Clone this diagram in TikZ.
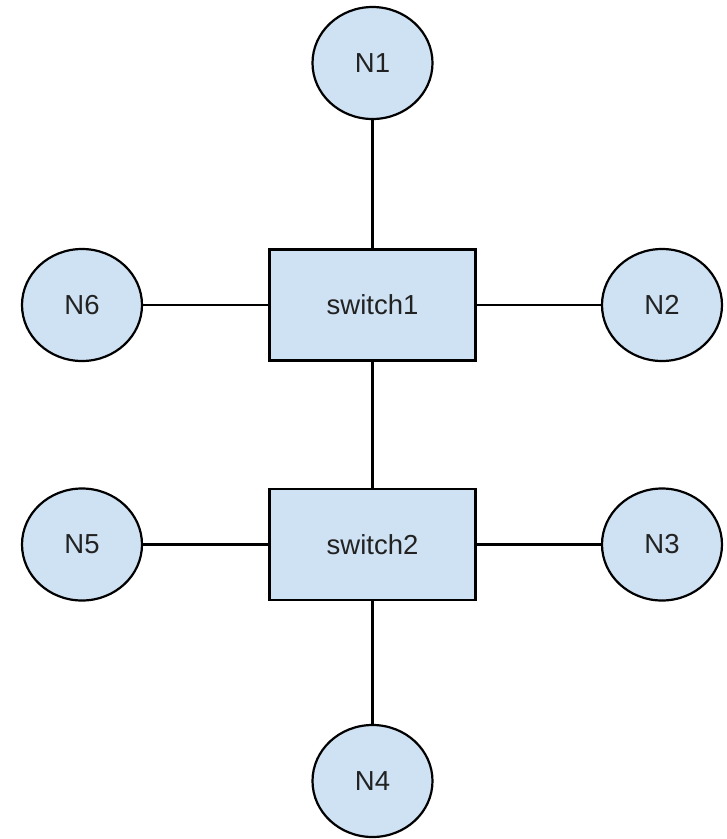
\documentclass[tikz,border=0pt]{standalone}
\usepackage{fontspec}
\setmainfont{Liberation Sans}
\usetikzlibrary{shapes}
\definecolor{nodeblue}{HTML}{CFE2F3}
\definecolor{textgrey}{HTML}{222222}

\begin{document}
\begin{tikzpicture}[x=1pt,y=1pt,
    host/.style={ellipse, draw, line width=2.2pt, fill=nodeblue,
    minimum width=120pt, minimum height=112pt, inner sep=0pt},
    switchbox/.style={rectangle, draw, line width=2.2pt, fill=nodeblue,
    minimum width=206pt, minimum height=111pt, inner sep=0pt}]
    \tikzstyle{every node}=[text=textgrey, font=\fontsize{27.5}{32}\selectfont]
    \useasboundingbox (0,0) rectangle (727,-839);
    % switches
    \node[switchbox] (switch1) at (372.5,-305) {switch1};
    \node[switchbox] (switch2) at (372.5,-544.5) {switch2};
    % hosts
    \node[host] (n1) at (372.5,-63) {N1};
    \node[host] (n2) at (662,-305) {N2};
    \node[host] (n3) at (662,-544.5) {N3};
    \node[host] (n4) at (372.5,-781) {N4};
    \node[host] (n5) at (82,-544.5) {N5};
    \node[host] (n6) at (82,-305) {N6};
    % links
    \draw[line width=2.2pt] (n1) -- (switch1)
        (n6) -- (switch1) (switch1) -- (n2)
        (switch1) -- (switch2)
        (n5) -- (switch2) (switch2) -- (n3)
        (switch2) -- (n4);
\end{tikzpicture}
\end{document}
